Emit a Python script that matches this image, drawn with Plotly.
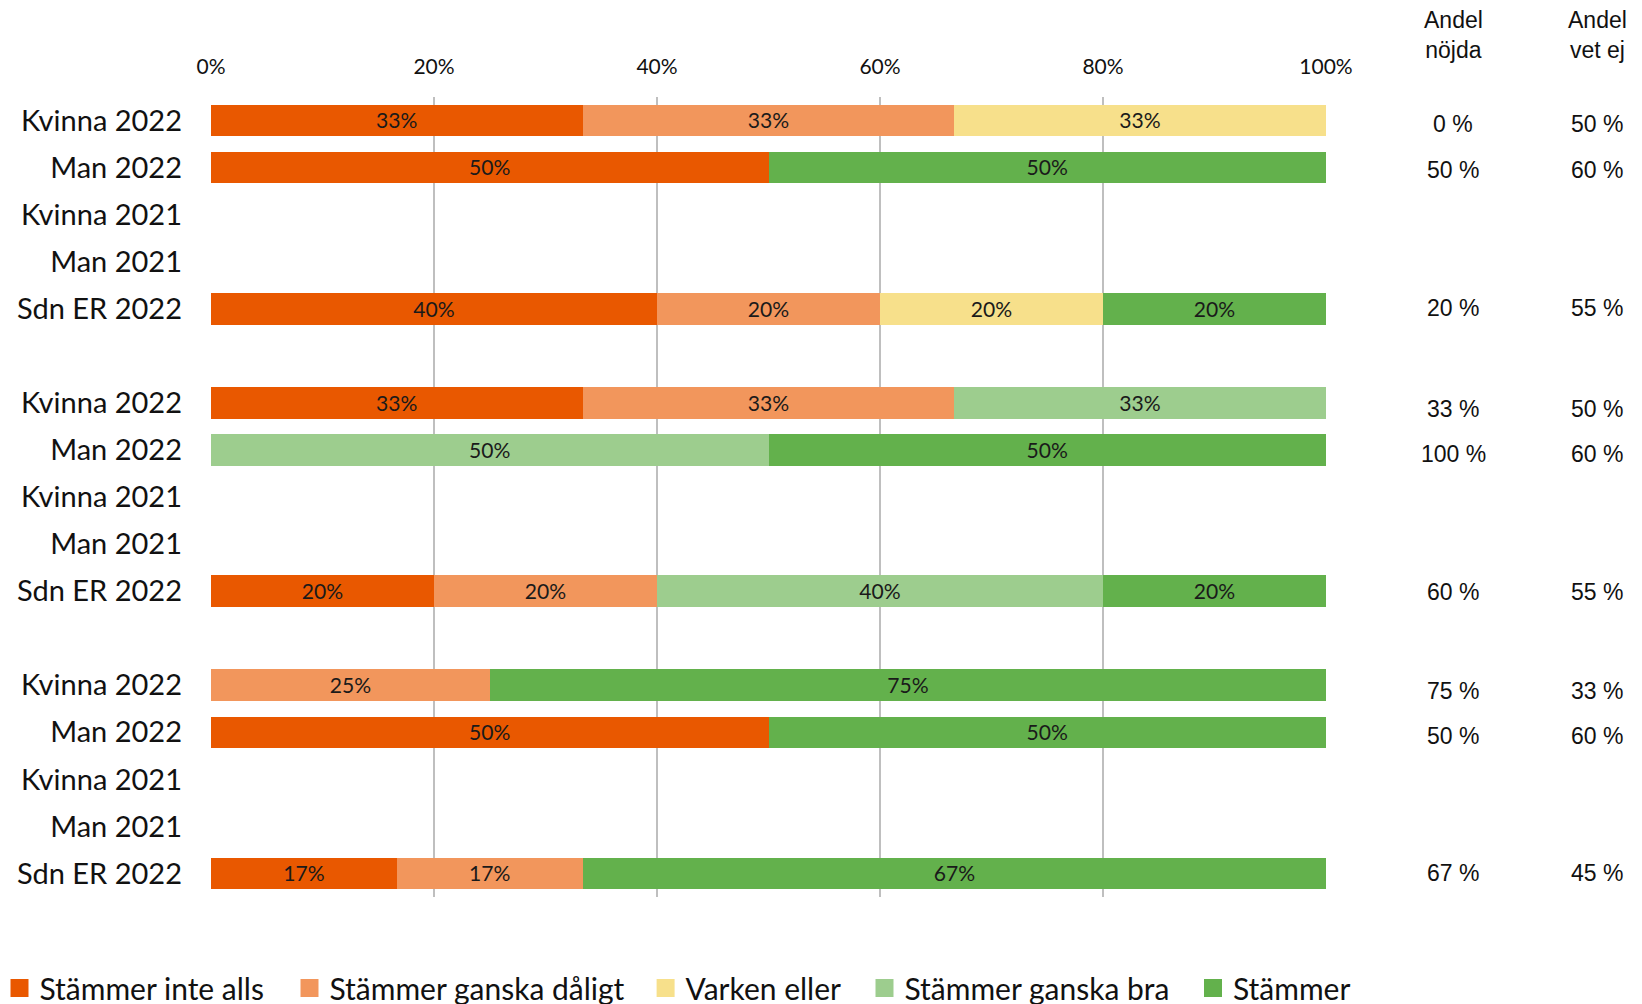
import plotly.graph_objects as go

# ---- data ----
row_labels = ["Kvinna 2022", "Man 2022", "Kvinna 2021", "Man 2021", "Sdn ER 2022", "",
              "Kvinna 2022", "Man 2022", "Kvinna 2021", "Man 2021", "Sdn ER 2022", "",
              "Kvinna 2022", "Man 2022", "Kvinna 2021", "Man 2021", "Sdn ER 2022"]
series_names = ["Stämmer inte alls", "Stämmer ganska dåligt", "Varken eller",
                "Stämmer ganska bra", "Stämmer"]
inte_alls = [33.33, 50, None, None, 40, None, 33.33, 0, None, None, 20, None, 0, 50, None, None, 16.67]
ganska_daligt = [33.33, 0, None, None, 20, None, 33.33, 0, None, None, 20, None, 25, 0, None, None, 16.67]
varken = [33.33, 0, None, None, 20, None, 0, 0, None, None, 0, None, 0, 0, None, None, 0]
ganska_bra = [0, 0, None, None, 0, None, 33.33, 50, None, None, 40, None, 0, 0, None, None, 0]
stammer = [0, 50, None, None, 20, None, 0, 50, None, None, 20, None, 75, 50, None, None, 66.67]
andel_nojda = ["0 %", "50 %", "", "", "20 %", "", "33 %", "100 %", "", "", "60 %", "",
               "75 %", "50 %", "", "", "67 %"]
andel_vet_ej = ["50 %", "60 %", "", "", "55 %", "", "50 %", "60 %", "", "", "55 %", "",
                "33 %", "60 %", "", "", "45 %"]
x_ticks = [0, 20, 40, 60, 80, 100]
x_tick_labels = ["0%", "20%", "40%", "60%", "80%", "100%"]

colors = ["#E95800", "#F2965C", "#F7E08B", "#9DCD8E", "#63B14C"]
series_values = [inte_alls, ganska_daligt, varken, ganska_bra, stammer]

# ---- style / geometry (figure pixels) ----
FW, FH = 1642, 1004
PL, PR = 202.5, 1317.7          # plot area left/right
PT, PB = 89, 889                # plot area top/bottom
PW = PR - PL
# small vertical offsets of the side-table texts (px, downwards)
side_text_offset = [3.3, 2.2, 0, 0, -1.2, 0, 5.8, 4.5, 0, 0, 0.8, 0, 5.3, 3.8, 0, 0, -0.3]

cat_font = "Lato, Carlito, Open Sans, sans-serif"
num_font = "Liberation Sans, Arial, sans-serif"

ypos = list(range(len(row_labels)))

fig = go.Figure()
for name, vals, col in zip(series_names, series_values, colors):
    xs = [v if (v is not None and v > 0) else None for v in vals]
    txt = [f"{round(v)}%" if (v is not None and v > 0) else "" for v in vals]
    fig.add_trace(go.Bar(
        x=xs, y=ypos, orientation="h", name=name, showlegend=False,
        marker=dict(color=col, line=dict(width=0)),
        text=txt, textposition="inside", insidetextanchor="middle",
        textfont=dict(family=cat_font, size=21.5, color="#1a1a1a"),
        hoverinfo="skip",
    ))

# legend entries (one legend per entry so positions follow the reference)
legend_square_left = [2.5, 292.5, 648.6, 867.5, 1196]
legend_cy = 980
for i, (name, col) in enumerate(zip(series_names, colors)):
    lg = "legend" if i == 0 else f"legend{i + 1}"
    fig.add_trace(go.Scatter(
        x=[None], y=[None], mode="markers", name=name, legend=lg, showlegend=True,
        marker=dict(symbol="square", size=16, color=col, line=dict(width=2, color=col)),
        hoverinfo="skip",
    ))
    indent = -10 if i == 0 else 0
    fig.update_layout({lg: dict(
        orientation="h", xref="container", yref="container",
        x=(legend_square_left[i] - 11 - indent) / FW, y=1 - legend_cy / FH,
        xanchor="left", yanchor="middle", bgcolor="rgba(0,0,0,0)", indentation=indent,
        font=dict(family=cat_font, size=30, color="#111"), itemwidth=30,
    )})

for i, (a, b) in enumerate(zip(andel_nojda, andel_vet_ej)):
    for xp, t in [(1445, a), (1589, b)]:
        if t:
            fig.add_annotation(x=(xp - PL) / PW, y=i, xref="paper", yref="y",
                               text=t, showarrow=False, yshift=-side_text_offset[i],
                               xanchor="center", yanchor="middle",
                               font=dict(family=num_font, size=23, color="#111"))

for xp, txt in [(1445, "Andel<br>nöjda"), (1589, "Andel<br>vet ej")]:
    fig.add_annotation(x=(xp - PL) / PW, y=(PB - 27) / (PB - PT), xref="paper", yref="paper",
                       text=txt, showarrow=False, align="center",
                       xanchor="center", yanchor="middle",
                       font=dict(family=num_font, size=23, color="#111"))

fig.update_layout(
    barmode="stack", bargap=0.33,
    width=FW, height=FH,
    margin=dict(l=PL, r=FW - PR, t=PT, b=FH - PB, autoexpand=False),
    plot_bgcolor="white", paper_bgcolor="white",
    showlegend=True,
    xaxis=dict(range=[0, 100], side="top", tickvals=x_ticks, ticktext=x_tick_labels,
               showgrid=True, gridcolor="#BFBFBF", gridwidth=1.5, zeroline=False,
               showline=False, ticks="", ticklabelstandoff=18,
               tickfont=dict(family=cat_font, size=21, color="#111"), fixedrange=True),
    yaxis=dict(range=[len(row_labels) - 0.5, -0.5], tickvals=ypos, ticktext=row_labels,
               showgrid=False, zeroline=False, showline=False, ticks="",
               ticklabelstandoff=28,
               tickfont=dict(family=cat_font, size=29, color="#111"), fixedrange=True),
)

fig.write_html("out.html")
